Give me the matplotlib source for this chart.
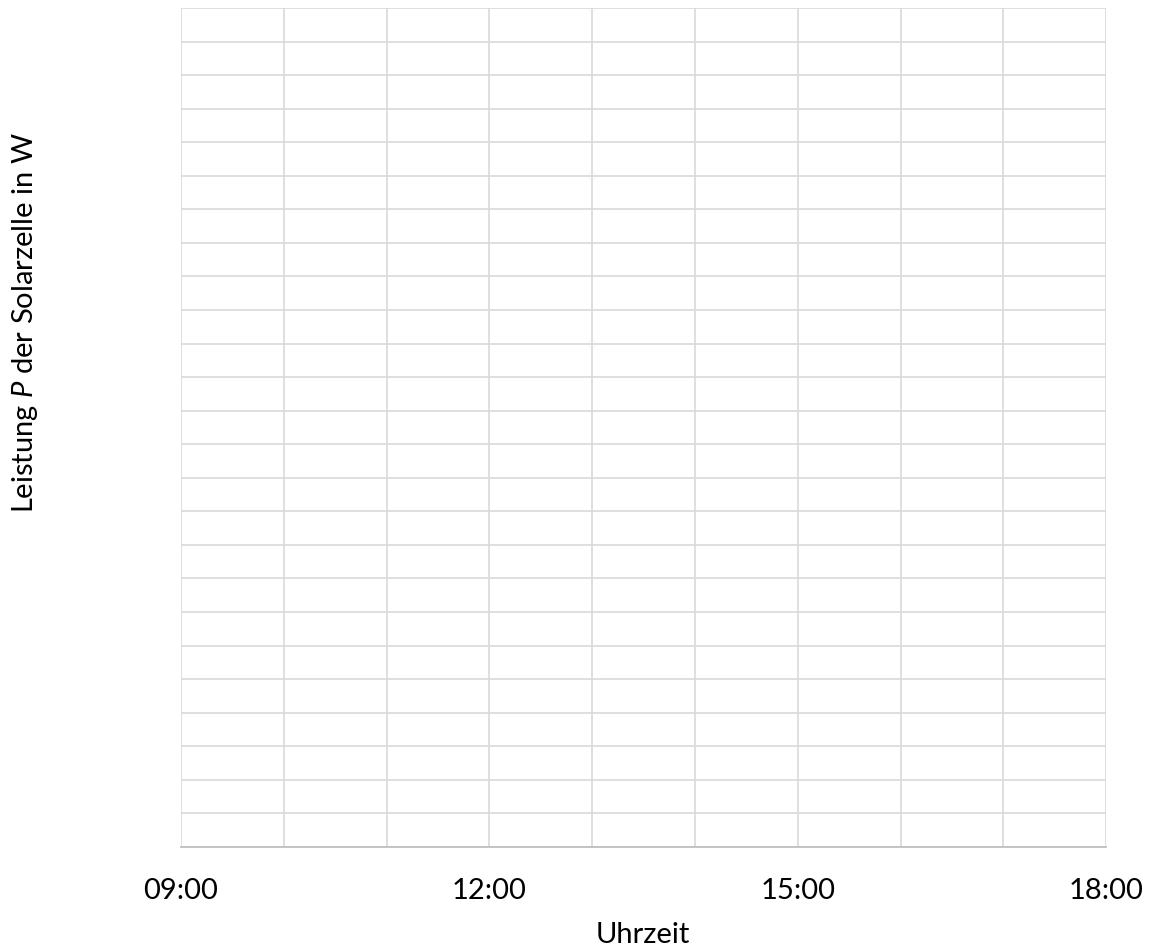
import matplotlib
matplotlib.use("Agg")
import matplotlib.pyplot as plt

# leeres Diagramm: Leistung der Solarzelle ueber den Tag
hours = [9, 10, 11, 12, 13, 14, 15, 16, 17, 18]
tick_hours = [9, 12, 15, 18]
tick_labels = ["09:00", "12:00", "15:00", "18:00"]
power_grid = list(range(0, 26))

plt.rcParams['font.family'] = ['Lato', 'DejaVu Sans']
plt.rcParams['mathtext.fontset'] = 'custom'
plt.rcParams['mathtext.rm'] = 'Lato'
plt.rcParams['mathtext.it'] = 'Lato:italic'

fig = plt.figure(figsize=(11.63, 9.49), dpi=100)
ax = fig.add_axes([0.1556, 0.1075, 0.7955, 0.8841])

ax.set_xlim(hours[0], hours[-1])
ax.set_ylim(power_grid[0], power_grid[-1])

for h in hours:
    ax.axvline(h, color='#d9d9d9', lw=1.2, zorder=1)
for p in power_grid:
    ax.axhline(p, color='#d9d9d9', lw=1.2, zorder=1)

ax.set_xticks(tick_hours)
ax.set_xticklabels(tick_labels, fontsize=21, color='#000000')
ax.set_yticks([])
ax.tick_params(axis='x', length=0, pad=22)

for s in ['top', 'right', 'left']:
    ax.spines[s].set_visible(False)
ax.spines['bottom'].set_color('#bfbfbf')
ax.spines['bottom'].set_linewidth(1.3)

fig.text(643 / 1163, 1 - 935 / 949, "Uhrzeit", fontsize=21,
         ha='center', va='center')
fig.text(25 / 1163, 1 - 323 / 949, "Leistung $P$ der Solarzelle in W",
         fontsize=21, rotation=90, ha='center', va='center')

fig.savefig("out.png", dpi=100)
